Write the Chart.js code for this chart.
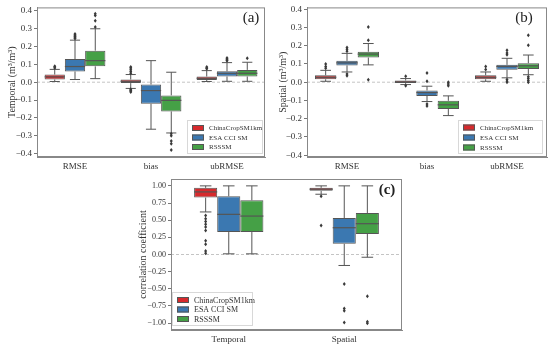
<!DOCTYPE html>
<html>
<head>
<meta charset="utf-8">
<script src="https://cdn.jsdelivr.net/npm/chart.js@4.4.0/dist/chart.umd.min.js"></script>
<style>
  body { margin: 0; background: #fff; width: 550px; height: 351px; position: relative; overflow: hidden; }
  canvas { position: absolute; }
</style>
</head>
<body>
<canvas id="chartA" width="275" height="175" style="left:0;top:0"></canvas>
<canvas id="chartB" width="275" height="175" style="left:275px;top:0"></canvas>
<canvas id="chartC" width="330" height="186" style="left:110px;top:165px"></canvas>
<script>
const seriesNames = ['ChinaCropSM1km', 'ESA CCI SM', 'RSSSM'];
const metricLabels = ['RMSE', 'bias', 'ubRMSE'];
const corrLabels = ['Temporal', 'Spatial'];
const ticksErr = [-0.4, -0.3, -0.2, -0.1, 0, 0.1, 0.2, 0.3, 0.4];
const ticksCorr = [-1, -0.75, -0.5, -0.25, 0, 0.25, 0.5, 0.75, 1];

// box stats per category: [min, q1, median, q3, max]
const temporalChina = [[0.004, 0.015, 0.03, 0.043, 0.072], [-0.035, -0.005, 0.005, 0.015, 0.043], [0.004, 0.013, 0.022, 0.032, 0.065]];
const temporalChinaOut = [[0.08, 0.085, 0.09], [0.05, 0.06, 0.07, 0.08, 0.085, -0.04, -0.045, -0.05, -0.055], [0.075, 0.08, 0.085]];
const temporalEsa = [[0.015, 0.06, 0.088, 0.13, 0.236], [-0.264, -0.121, -0.047, -0.013, 0.121], [0.005, 0.032, 0.05, 0.061, 0.11]];
const temporalEsaOut = [[0.245, 0.25, 0.255, 0.26, 0.265, 0.27], [], [0.12, 0.125, 0.13, 0.136]];
const temporalRsssm = [[0.02, 0.089, 0.121, 0.177, 0.30], [-0.285, -0.164, -0.102, -0.074, 0.056], [0.005, 0.032, 0.05, 0.069, 0.112]];
const temporalRsssmOut = [[0.31, 0.345, 0.375, 0.385], [-0.29, -0.3, -0.33, -0.345, -0.38], [0.135]];

const spatialChina = [[0.005, 0.016, 0.027, 0.038, 0.065], [-0.013, -0.005, 0.002, 0.009, 0.02], [0.005, 0.016, 0.027, 0.038, 0.056]];
const spatialChinaOut = [[0.077, 0.086, 0.1], [0.032, -0.02], [0.07, 0.086]];
const spatialEsa = [[0.056, 0.092, 0.106, 0.117, 0.158], [-0.106, -0.075, -0.057, -0.045, -0.022], [0.024, 0.068, 0.086, 0.095, 0.131]];
const spatialEsaOut = [[0.17, 0.18, 0.19, 0.045, 0.035], [0.05, 0.005, -0.12, -0.13], [0.15, 0.16, 0.175, 0.015, 0.005, 0.0]];
const spatialRsssm = [[0.095, 0.135, 0.154, 0.167, 0.212], [-0.183, -0.147, -0.124, -0.102, -0.075], [0.041, 0.072, 0.09, 0.104, 0.149]];
const spatialRsssmOut = [[0.302, 0.23, 0.014], [0.0, -0.01, -0.02], [0.257, 0.203, 0.03, 0.02, 0.01, 0.0]];

const corrChina = [[0.62, 0.829, 0.912, 0.971, 1.0], [0.878, 0.927, 0.951, 0.971, 1.0]];
const corrChinaOut = [[0.57, 0.52, 0.48, 0.44, 0.40, 0.35, 0.2, 0.15, 0.05, 0.02], [0.85, 0.424]];
const corrEsa = [[0.01, 0.327, 0.585, 0.849, 1.0], [-0.16, 0.156, 0.39, 0.532, 1.0]];
const corrEsaOut = [[], [-0.43, -0.785, -0.82, -0.99]];
const corrRsssm = [[0.01, 0.327, 0.56, 0.79, 1.0], [-0.04, 0.298, 0.449, 0.605, 1.0]];
const corrRsssmOut = [[], [-0.61, -0.98, -1.0]];

const colors = ['#d62a2d', '#3b78b1', '#45a046'];
const edge = '#555';
const serif = "'Liberation Serif', 'Times New Roman', serif";

// whiskers + zero line under the boxes, medians/outliers/frame/legend on top
const boxExtras = {
  id: 'boxExtras',
  beforeDatasetsDraw(chart) {
    const { ctx, chartArea: a, scales: { y } } = chart;
    const y0 = y.getPixelForValue(0);
    ctx.save();
    ctx.strokeStyle = '#c4c4c4';
    ctx.lineWidth = 1;
    ctx.setLineDash([3, 2]);
    ctx.beginPath();
    ctx.moveTo(a.left, y0); ctx.lineTo(a.right, y0);
    ctx.stroke();
    ctx.setLineDash([]);
    ctx.strokeStyle = edge;
    chart.data.datasets.forEach((ds, i) => {
      chart.getDatasetMeta(i).data.forEach((bar, j) => {
        const s = ds.stats[j];
        const x = bar.x, cap = bar.width / 4;
        ctx.beginPath();
        ctx.moveTo(x, y.getPixelForValue(s[3])); ctx.lineTo(x, y.getPixelForValue(s[4]));
        ctx.moveTo(x, y.getPixelForValue(s[1])); ctx.lineTo(x, y.getPixelForValue(s[0]));
        ctx.moveTo(x - cap, y.getPixelForValue(s[4])); ctx.lineTo(x + cap, y.getPixelForValue(s[4]));
        ctx.moveTo(x - cap, y.getPixelForValue(s[0])); ctx.lineTo(x + cap, y.getPixelForValue(s[0]));
        ctx.stroke();
      });
    });
    ctx.restore();
  },
  afterDatasetsDraw(chart) {
    const { ctx, scales: { y } } = chart;
    ctx.save();
    chart.data.datasets.forEach((ds, i) => {
      chart.getDatasetMeta(i).data.forEach((bar, j) => {
        const s = ds.stats[j];
        const half = bar.width / 2;
        const ym = y.getPixelForValue(s[2]);
        ctx.strokeStyle = edge;
        ctx.lineWidth = 1.2;
        ctx.beginPath();
        ctx.moveTo(bar.x - half, ym); ctx.lineTo(bar.x + half, ym);
        ctx.stroke();
        ctx.fillStyle = '#3a3a3a';
        ds.outliers[j].forEach(v => {
          const py = y.getPixelForValue(v);
          ctx.beginPath();
          ctx.moveTo(bar.x, py - 2); ctx.lineTo(bar.x + 1.5, py);
          ctx.lineTo(bar.x, py + 2); ctx.lineTo(bar.x - 1.5, py);
          ctx.closePath();
          ctx.fill();
        });
      });
    });
    ctx.restore();
  },
  afterDraw(chart, args, opts) {
    const { ctx, chartArea: a } = chart;
    ctx.save();
    ctx.strokeStyle = '#888';
    ctx.lineWidth = 1;
    ctx.strokeRect(a.left + 0.5, a.top + 0.5, a.right - a.left - 1, a.bottom - a.top - 1);
    // panel letter
    ctx.fillStyle = '#222';
    ctx.font = (opts.bold ? 'bold ' : '') + opts.letterSize + 'px ' + serif;
    ctx.textAlign = 'center';
    ctx.textBaseline = 'middle';
    ctx.fillText(opts.letter, opts.letterX, opts.letterY);
    // legend
    const lg = opts.legend;
    ctx.fillStyle = 'rgba(255,255,255,0.8)';
    ctx.fillRect(lg.left, lg.top, lg.width, lg.height);
    ctx.strokeStyle = '#d8d8d8';
    ctx.strokeRect(lg.left + 0.5, lg.top + 0.5, lg.width, lg.height);
    ctx.font = lg.fontSize + 'px ' + serif;
    ctx.textAlign = 'left';
    chart.data.datasets.forEach((ds, i) => {
      const cy = lg.top + lg.firstRow + i * lg.rowGap;
      ctx.fillStyle = ds.backgroundColor;
      ctx.fillRect(lg.left + 5, cy - 3, 12, 6);
      ctx.strokeStyle = edge;
      ctx.strokeRect(lg.left + 5.5, cy - 2.5, 11, 5);
      ctx.fillStyle = '#333';
      ctx.fillText(ds.label, lg.left + 22, cy + 0.5);
    });
    ctx.restore();
  }
};

function fmt(v, digits) {
  const s = Math.abs(v).toFixed(digits);
  return (v < 0 ? '\u2212' : '') + s;
}

function makeChart(id, labels, stats, outliers, cfg) {
  const datasets = seriesNames.map((name, i) => ({
    label: name,
    data: stats[i].map(s => [s[1], s[3]]),
    stats: stats[i],
    outliers: outliers[i],
    backgroundColor: colors[i],
    borderColor: edge,
    borderWidth: 1,
    borderSkipped: false,
    categoryPercentage: cfg.groupWidth,
    barPercentage: 1.0
  }));
  return new Chart(document.getElementById(id), {
    type: 'bar',
    data: { labels: labels, datasets: datasets },
    plugins: [boxExtras],
    options: {
      responsive: false,
      animation: false,
      layout: { padding: cfg.padding },
      plugins: {
        legend: { display: false },
        tooltip: { enabled: false },
        boxExtras: cfg.extras
      },
      scales: {
        x: {
          grid: { display: false, drawTicks: true, tickLength: 3, color: '#777' },
          border: { color: '#888' },
          ticks: { color: '#333', font: { family: serif, size: 9 }, padding: 1, maxRotation: 0 },
          afterFit: s => { s.height = cfg.xHeight; }
        },
        y: {
          min: cfg.min,
          max: cfg.max,
          afterBuildTicks: s => { s.ticks = cfg.ticks.map(v => ({ value: v })); },
          grid: { drawOnChartArea: false, tickLength: 3, color: '#777' },
          border: { color: '#888' },
          ticks: { color: '#333', font: { family: serif, size: cfg.tickSize }, padding: cfg.tickPad,
                   callback: v => fmt(v, cfg.digits) },
          title: { display: true, text: cfg.yTitle, color: '#333',
                   font: { family: serif, size: cfg.titleSize }, padding: { top: cfg.titlePad, bottom: 2 } },
          afterFit: s => { s.width = cfg.yWidth; }
        }
      }
    }
  });
}

makeChart('chartA', metricLabels,
  [temporalChina, temporalEsa, temporalRsssm],
  [temporalChinaOut, temporalEsaOut, temporalRsssmOut],
  { groupWidth: 0.8, padding: { left: 0, top: 7, right: 10, bottom: 0 }, min: -0.42, max: 0.42,
    ticks: ticksErr, digits: 1, yTitle: 'Temporal (m\u00b3/m\u00b3)', tickSize: 9, titleSize: 10,
    xHeight: 18, yWidth: 37, tickPad: 2, titlePad: 6,
    extras: { letter: '(a)', letterX: 251, letterY: 18, letterSize: 15, bold: false,
      legend: { left: 187, top: 120, width: 75, height: 33, fontSize: 7, firstRow: 8, rowGap: 9.5 } } });

makeChart('chartB', metricLabels,
  [spatialChina, spatialEsa, spatialRsssm],
  [spatialChinaOut, spatialEsaOut, spatialRsssmOut],
  { groupWidth: 0.8, padding: { left: 0, top: 7, right: 3, bottom: 0 }, min: -0.41, max: 0.41,
    ticks: ticksErr, digits: 1, yTitle: 'Spatial (m\u00b3/m\u00b3)', tickSize: 9, titleSize: 10,
    xHeight: 18, yWidth: 32, tickPad: 2, titlePad: 2,
    extras: { letter: '(b)', letterX: 249, letterY: 18, letterSize: 15, bold: false,
      legend: { left: 183, top: 120, width: 84, height: 33, fontSize: 7, firstRow: 7.5, rowGap: 10 } } });

makeChart('chartC', corrLabels,
  [corrChina, corrEsa, corrRsssm],
  [corrChinaOut, corrEsaOut, corrRsssmOut],
  { groupWidth: 0.6, padding: { left: 0, top: 14, right: 38, bottom: 0 }, min: -1.1, max: 1.1,
    ticks: ticksCorr, digits: 2, yTitle: 'correlation coefficient', tickSize: 8, titleSize: 10,
    xHeight: 21, yWidth: 61, tickPad: 2, titlePad: 27,
    extras: { letter: '(c)', letterX: 277, letterY: 25, letterSize: 15, bold: true,
      legend: { left: 62, top: 127, width: 80, height: 33, fontSize: 8, firstRow: 8, rowGap: 9.5 } } });
</script>
</body>
</html>
